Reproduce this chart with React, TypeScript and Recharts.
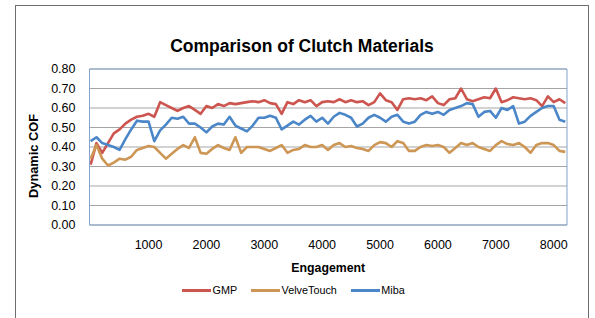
import React from 'react';
import { LineChart, Line, XAxis, YAxis, CartesianGrid, ReferenceLine } from 'recharts';

// engagement count (x), sampled every 100 engagements
const engagement = [
  0, 100, 200, 300, 400, 500, 600, 700, 800, 900,
  1000, 1100, 1200, 1300, 1400, 1500, 1600, 1700, 1800, 1900,
  2000, 2100, 2200, 2300, 2400, 2500, 2600, 2700, 2800, 2900,
  3000, 3100, 3200, 3300, 3400, 3500, 3600, 3700, 3800, 3900,
  4000, 4100, 4200, 4300, 4400, 4500, 4600, 4700, 4800, 4900,
  5000, 5100, 5200, 5300, 5400, 5500, 5600, 5700, 5800, 5900,
  6000, 6100, 6200, 6300, 6400, 6500, 6600, 6700, 6800, 6900,
  7000, 7100, 7200, 7300, 7400, 7500, 7600, 7700, 7800, 7900,
  8000, 8100, 8200,
];

const gmp = [
  0.31, 0.42, 0.37, 0.42, 0.47, 0.49, 0.52, 0.54, 0.555, 0.56,
  0.57, 0.555, 0.63, 0.615, 0.6, 0.585, 0.6, 0.61, 0.59, 0.57,
  0.61, 0.6, 0.62, 0.61, 0.625, 0.62, 0.625, 0.63, 0.635, 0.63,
  0.64, 0.625, 0.62, 0.57, 0.63, 0.62, 0.64, 0.63, 0.64, 0.61,
  0.63, 0.635, 0.63, 0.645, 0.63, 0.64, 0.63, 0.635, 0.615, 0.63,
  0.675, 0.64, 0.63, 0.59, 0.645, 0.65, 0.645, 0.65, 0.64, 0.66,
  0.625, 0.615, 0.645, 0.65, 0.7, 0.645, 0.635, 0.645, 0.655, 0.65,
  0.7, 0.63, 0.64, 0.655, 0.65, 0.645, 0.65, 0.64, 0.61, 0.66,
  0.63, 0.645, 0.625,
];

const velveTouch = [
  0.34, 0.41, 0.34, 0.305, 0.32, 0.34, 0.335, 0.35, 0.385, 0.395,
  0.405, 0.4, 0.37, 0.34, 0.365, 0.39, 0.41, 0.395, 0.45, 0.37,
  0.365, 0.39, 0.41, 0.395, 0.385, 0.45, 0.37, 0.4, 0.4, 0.4,
  0.39, 0.38, 0.395, 0.41, 0.37, 0.385, 0.39, 0.41, 0.4, 0.4,
  0.41, 0.385, 0.41, 0.42, 0.4, 0.405, 0.395, 0.39, 0.38, 0.41,
  0.425, 0.42, 0.4, 0.43, 0.42, 0.38, 0.38, 0.4, 0.41, 0.405,
  0.41, 0.4, 0.37, 0.395, 0.42, 0.41, 0.42, 0.4, 0.39, 0.38,
  0.41, 0.43, 0.415, 0.41, 0.42, 0.4, 0.37, 0.41, 0.42, 0.42,
  0.41, 0.38, 0.375,
];

const miba = [
  0.43, 0.45, 0.42, 0.41, 0.4, 0.385, 0.44, 0.49, 0.535, 0.53,
  0.53, 0.43, 0.485, 0.515, 0.55, 0.545, 0.555, 0.52, 0.52, 0.5,
  0.475, 0.505, 0.52, 0.515, 0.555, 0.51, 0.495, 0.48, 0.51, 0.55,
  0.55, 0.56, 0.55, 0.49, 0.51, 0.53, 0.515, 0.54, 0.56, 0.53,
  0.55, 0.52, 0.555, 0.575, 0.565, 0.55, 0.505, 0.52, 0.55, 0.565,
  0.55, 0.53, 0.555, 0.565, 0.53, 0.52, 0.53, 0.565, 0.58, 0.57,
  0.58, 0.565, 0.59, 0.6, 0.61, 0.625, 0.62, 0.555, 0.58, 0.585,
  0.55, 0.6, 0.59, 0.61, 0.52, 0.53, 0.56, 0.58, 0.6, 0.61,
  0.61, 0.54, 0.53,
];

const xTicks = [1000, 2000, 3000, 4000, 5000, 6000, 7000, 8000];
const yTicks = [0, 0.1, 0.2, 0.3, 0.4, 0.5, 0.6, 0.7, 0.8];

const series = [
  { key: 'gmp', name: 'GMP', color: '#CD5550' },
  { key: 'velveTouch', name: 'VelveTouch', color: '#CD9655' },
  { key: 'miba', name: 'Miba', color: '#4B87C8' },
];

const data = engagement.map((e, i) => ({
  engagement: e,
  gmp: gmp[i],
  velveTouch: velveTouch[i],
  miba: miba[i],
}));

const FONT = '"Liberation Sans", Arial, sans-serif';
const BORDER = '#85A5CC';

export default function App() {
  return (
    <div
      style={{
        position: 'absolute',
        left: 0,
        top: 0,
        width: 595,
        height: 318,
        overflow: 'hidden',
        background: '#fff',
        fontFamily: FONT,
      }}
    >
      <div
        style={{
          position: 'absolute',
          left: 15,
          top: 5,
          width: 572,
          height: 400,
          border: '1px solid #6e6e6e',
        }}
      />
      <div
        style={{
          position: 'absolute',
          left: 15,
          top: 36,
          width: 574,
          textAlign: 'center',
          fontSize: 17.5,
          lineHeight: '20px',
          fontWeight: 'bold',
          color: '#000',
        }}
      >
        Comparison of Clutch Materials
      </div>

      <div style={{ position: 'absolute', left: 0, top: 0 }}>
        <LineChart
          width={595}
          height={318}
          data={data}
          margin={{ top: 69, right: 28, bottom: 63, left: 49.5 }}
        >
          <CartesianGrid vertical={false} stroke="#A5A5A5" strokeWidth={1.2} />
          <XAxis
            dataKey="engagement"
            type="number"
            domain={[-20, 8230]}
            ticks={xTicks}
            interval={0}
            height={30}
            tickLine={false}
            tickMargin={9}
            axisLine={{ stroke: BORDER }}
            tick={{ fill: '#000', fontSize: 12.5, fontFamily: FONT }}
            label={{
              content: (props: any) => (
                <text
                  x={props.viewBox.x + props.viewBox.width / 2}
                  y={272}
                  textAnchor="middle"
                  fontFamily={FONT}
                  fontSize={12.3}
                  fontWeight="bold"
                  fill="#000"
                >
                  Engagement
                </text>
              ),
            }}
          />
          <YAxis
            type="number"
            domain={[0, 0.8]}
            ticks={yTicks}
            interval={0}
            width={40}
            tickLine={false}
            tickMargin={8}
            axisLine={{ stroke: BORDER }}
            tickFormatter={(v: number) => v.toFixed(2)}
            tick={{ fill: '#000', fontSize: 12.5, fontFamily: FONT }}
            label={{
              content: () => (
                <text
                  x={33.5}
                  y={156}
                  transform="rotate(-90 33.5 156)"
                  textAnchor="middle"
                  dominantBaseline="central"
                  fontFamily={FONT}
                  fontSize={12.8}
                  fontWeight="bold"
                  fill="#000"
                >
                  Dynamic COF
                </text>
              ),
            }}
          />
          <ReferenceLine y={0.8} stroke={BORDER} />
          <ReferenceLine x={8230} stroke={BORDER} />
          {series.map((s) => (
            <Line
              key={s.key}
              dataKey={s.key}
              name={s.name}
              type="linear"
              stroke={s.color}
              strokeWidth={2.6}
              strokeLinejoin="round"
              dot={false}
              activeDot={false}
              isAnimationActive={false}
            />
          ))}
        </LineChart>
      </div>

      <div
        style={{
          position: 'absolute',
          left: 182,
          top: 283,
          display: 'flex',
          alignItems: 'center',
          gap: 14,
          fontSize: 10.8,
          color: '#000',
          lineHeight: '14px',
        }}
      >
        {series.map((s) => (
          <div key={s.key} style={{ display: 'flex', alignItems: 'center' }}>
            <div style={{ width: 29, height: 3, background: s.color, marginRight: 1.5 }} />
            <span>{s.name}</span>
          </div>
        ))}
      </div>
    </div>
  );
}
